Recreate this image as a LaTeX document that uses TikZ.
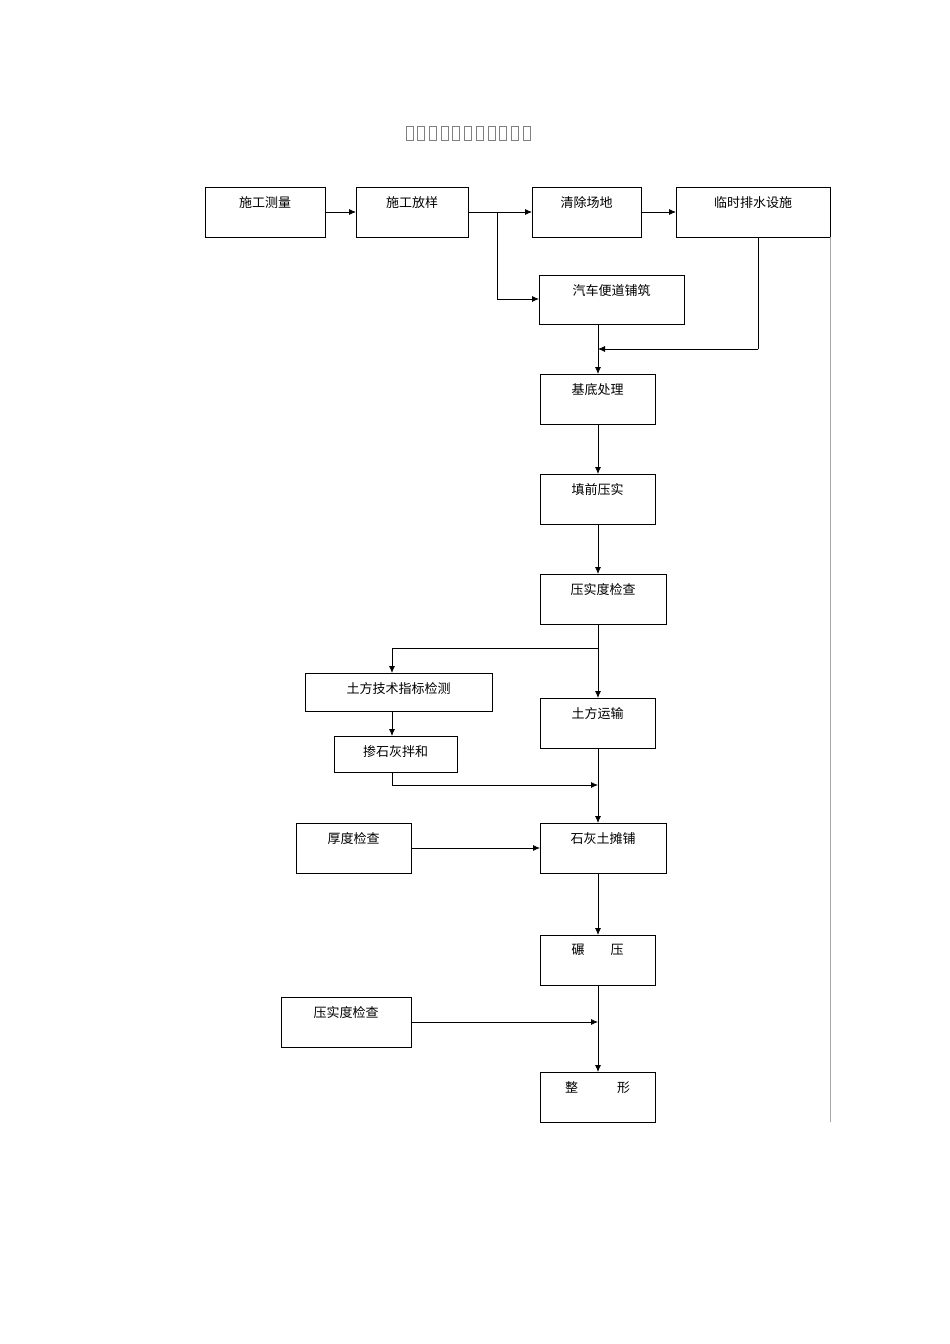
\documentclass[tikz,border=0pt]{standalone}
\usepackage{fontspec}
\setmainfont{Noto Sans CJK SC}
\begin{document}
\begin{tikzpicture}[x=1pt,y=-1pt,
  bx/.style={draw,line width=0.9pt},
  lbl/.style={font=\fontsize{13}{15}\selectfont},
  ar/.style={draw,line width=0.8pt,-{Latex[length=7pt,width=6pt]}},
  ln/.style={draw,line width=0.8pt}]
\usetikzlibrary{arrows.meta}
\useasboundingbox (0,0) rectangle (950,1344);
% title (glyphs missing in original)
\foreach \i in {0,...,10} \draw[gray,line width=0.7pt] (406+\i*11.7,126) rectangle ++(7,14);
\newcommand{\mybox}[6]{\draw[bx] (#2,#3) rectangle (#4,#5); \node[lbl,anchor=north] (#1) at ({(#2+#4)/2},#3+6) {#6};
 \coordinate (#1-nw) at (#2,#3); \coordinate (#1-se) at (#4,#5);}
\mybox{a}{205}{187}{325}{237}{施工测量}
\mybox{b}{356}{187}{468}{237}{施工放样}
\mybox{c}{532}{187}{641}{237}{清除场地}
\mybox{d}{676}{187}{830}{237}{临时排水设施}
\mybox{e}{539}{275}{684}{324}{汽车便道铺筑}
\mybox{f}{540}{374}{655}{424}{基底处理}
\mybox{g}{540}{474}{655}{524}{填前压实}
\mybox{h}{540}{574}{666}{624}{压实度检查}
\mybox{i}{305}{673}{492}{711}{土方技术指标检测}
\mybox{j}{334}{736}{457}{772}{掺石灰拌和}
\mybox{k}{540}{698}{655}{748}{土方运输}
\mybox{l}{296}{823}{411}{873}{厚度检查}
\mybox{m}{540}{823}{666}{873}{石灰土摊铺}
\mybox{n}{540}{935}{655}{985}{碾\hspace{2em}压}
\mybox{o}{281}{997}{411}{1047}{压实度检查}
\mybox{p}{540}{1072}{655}{1122}{整\hspace{3em}形}
\draw[gray!70,line width=0.6pt] (830,237) -- (830,1122);
\coordinate (br) at (497,212);
\coordinate (t1) at (758,349);
\coordinate (t2) at (598,349);
\coordinate (s1) at (598,648);
\coordinate (s2) at (392,648);
\coordinate (m1) at (392,785);
\coordinate (m2) at (598,785);
\coordinate (q1) at (598,1022);
\draw[ar] (325,212) -- (356,212);
\draw[ar] (468,212) -- (532,212);
\draw[ar] (641,212) -- (676,212);
\draw[ar] (br) |- (539,299);
\draw[ln] (758,237) -- (t1); \draw[ar] (t1) -- (t2);
\draw[ar] (598,324) -- (598,374);
\draw[ar] (598,424) -- (598,474);
\draw[ar] (598,524) -- (598,574);
\draw[ar] (598,624) -- (598,698);
\draw[ar] (s1) -- (s2) -- (392,673);
\draw[ar] (392,711) -- (392,736);
\draw[ar] (392,772) -- (m1) -- (m2);
\draw[ar] (598,748) -- (598,823);
\draw[ar] (411,848) -- (540,848);
\draw[ar] (598,873) -- (598,935);
\draw[ar] (598,985) -- (598,1072);
\draw[ar] (411,1022) -- (q1);
\end{tikzpicture}
\end{document}
